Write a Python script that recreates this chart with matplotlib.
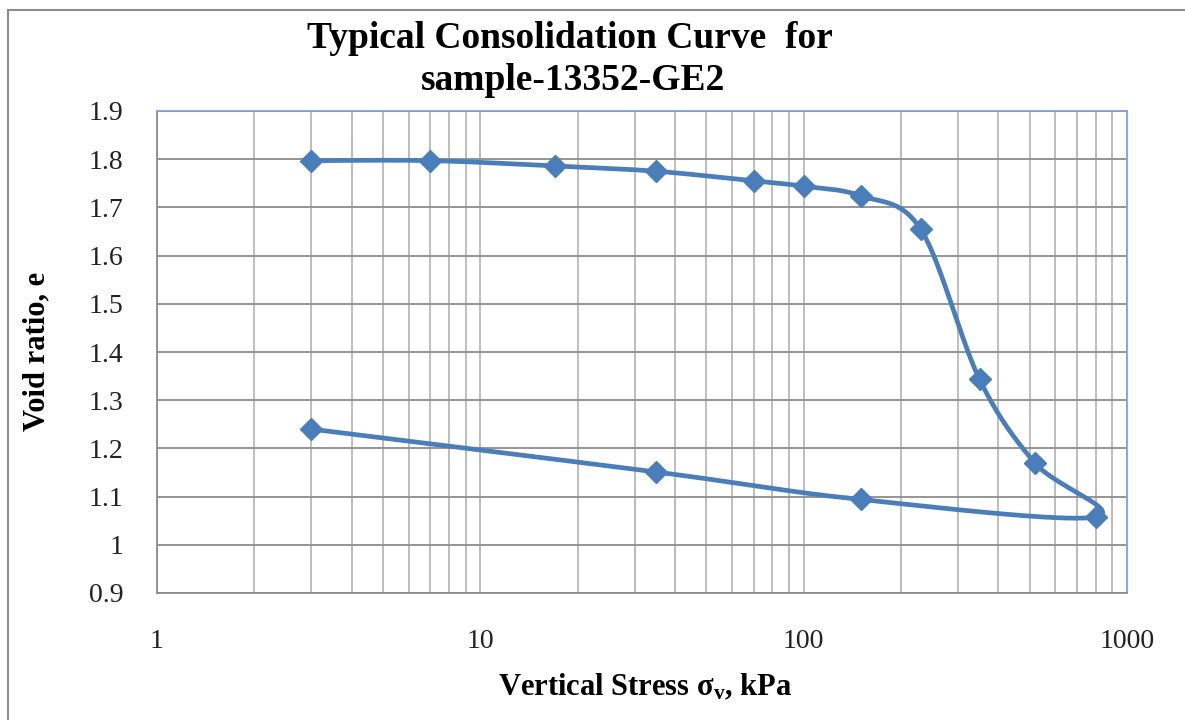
import numpy as np
import matplotlib
matplotlib.use("Agg")
import matplotlib.pyplot as plt
from matplotlib.patches import Rectangle
from matplotlib.ticker import FixedLocator, NullFormatter

plt.rcParams.update({
    "font.family": "Liberation Serif",
    "mathtext.fontset": "custom",
    "mathtext.rm": "Liberation Serif",
    "mathtext.bf": "Liberation Serif:bold",
})

# loading then unloading branch
stress = [3, 7, 17, 35, 70, 100, 150, 230, 350, 520, 800, 150, 35, 3]
void_ratio = [1.797, 1.797, 1.786, 1.775, 1.755, 1.744, 1.724, 1.655,
              1.343, 1.169, 1.058, 1.094, 1.151, 1.240]

y_ticks = [0.9, 1.0, 1.1, 1.2, 1.3, 1.4, 1.5, 1.6, 1.7, 1.8, 1.9]
y_labels = ["0.9", "1", "1.1", "1.2", "1.3", "1.4", "1.5", "1.6", "1.7", "1.8", "1.9"]
x_ticks = [1, 10, 100, 1000]
x_labels = ["1", "10", "100", "1000"]

BLUE = "#4a7ebb"


def smooth(xs, ys, kx=323.0, ky=483.0, n=40):
    # Excel-style smoothed line: Catmull-Rom bezier in screen-like space
    p = np.column_stack([np.log10(xs) * kx, np.array(ys) * ky])
    p = np.vstack([p[0], p, p[-1]])
    out = []
    t = np.linspace(0, 1, n)[:, None]
    for i in range(1, len(p) - 2):
        p0, p1, p2, p3 = p[i - 1], p[i], p[i + 1], p[i + 2]
        c1 = p1 + (p2 - p0) / 6
        c2 = p2 - (p3 - p1) / 6
        seg = ((1 - t) ** 3) * p1 + 3 * ((1 - t) ** 2) * t * c1 \
            + 3 * (1 - t) * t ** 2 * c2 + t ** 3 * p2
        out.append(seg)
    out = np.vstack(out)
    return 10 ** (out[:, 0] / kx), out[:, 1] / ky


fig = plt.figure(figsize=(11.85, 7.2), dpi=100)
ax = fig.add_axes([157 / 1185, 1 - 593 / 720, (1127 - 157) / 1185, (593 - 111) / 720])

fig.add_artist(Rectangle((8 / 1185, -0.05), 1.1, 710 / 720 + 0.05,
                         transform=fig.transFigure, fill=False,
                         ec="#8c8c8c", lw=1.5))

ax.set_xscale("log")
ax.set_xlim(1, 1000)
ax.set_ylim(0.9, 1.9)

ax.xaxis.set_major_locator(FixedLocator(x_ticks))
ax.set_xticklabels(x_labels)
minor = [m * 10 ** d for d in range(3) for m in range(2, 10)]
ax.xaxis.set_minor_locator(FixedLocator(minor))
ax.xaxis.set_minor_formatter(NullFormatter())
ax.set_yticks(y_ticks)
ax.set_yticklabels(y_labels)

ax.grid(axis="y", which="major", color="#8c8c8c", lw=1.3)
ax.grid(axis="x", which="both", color="#b8b8b8", lw=1.3)
ax.set_axisbelow(True)

for s in ["left", "bottom"]:
    ax.spines[s].set_color("#8c8c8c")
    ax.spines[s].set_linewidth(1.3)
for s in ["top", "right"]:
    ax.spines[s].set_color("#7fa3d6")
    ax.spines[s].set_linewidth(1.3)

ax.tick_params(axis="both", which="both", length=0, labelsize=20, colors="#222222")
ax.tick_params(axis="y", pad=24)
ax.tick_params(axis="x", pad=26)

sx, sy = smooth(stress, void_ratio)
ax.plot(sx, sy, color=BLUE, lw=3.4, solid_capstyle="round", zorder=3)
ax.plot(stress, void_ratio, ls="none", marker="D", ms=11, color=BLUE, zorder=4)

fig.text(570 / 1185, 1 - 38 / 720, "Typical Consolidation Curve  for",
         ha="center", va="center", fontsize=27, weight="bold")
fig.text(573 / 1185, 1 - 80 / 720, "sample-13352-GE2",
         ha="center", va="center", fontsize=27, weight="bold")
fig.text(37 / 1185, 1 - 351 / 720, "Void ratio, e", rotation=90,
         ha="center", va="center", fontsize=22, weight="bold")
fig.text(645 / 1185, 1 - 687 / 720, r"Vertical Stress $\mathbf{\sigma_{v}}$, kPa",
         ha="center", va="center", fontsize=22, weight="bold")

fig.savefig("out.png", dpi=100)
